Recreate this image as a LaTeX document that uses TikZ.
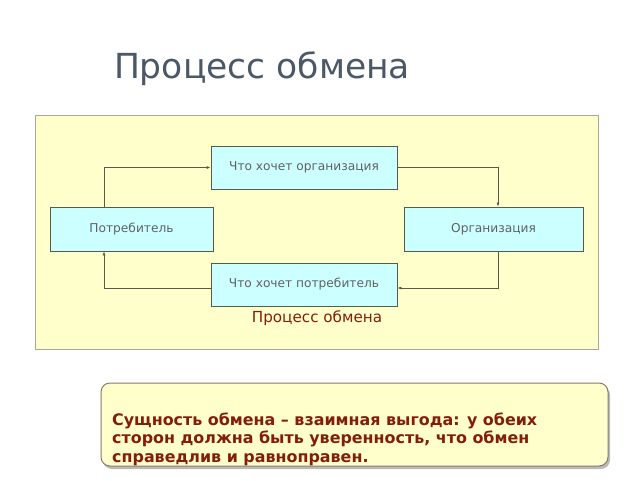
\documentclass[tikz,border=0pt]{standalone}
\usepackage{fontspec}
\setmainfont{DejaVu Sans}
\usetikzlibrary{arrows.meta,shadows}
\definecolor{panelfill}{HTML}{FFFFCC}
\definecolor{panelline}{HTML}{A8A89A}
\definecolor{boxfill}{HTML}{CCFFFF}
\definecolor{boxline}{HTML}{5A5A4A}
\definecolor{titlecol}{HTML}{4A5868}
\definecolor{redtext}{HTML}{841E0C}
\definecolor{notefill}{HTML}{FFFFCC}
\definecolor{noteline}{HTML}{8A7A6A}
\tikzset{
  flowbox/.style={draw=boxline, line width=0.8pt, fill=boxfill, inner sep=0pt, font=\fontsize{12.2}{14}\selectfont, text=black!62},
  flowline/.style={draw=boxline, line width=0.7pt, -{Latex[length=4pt,width=3pt]}},
}
\begin{document}
\begin{tikzpicture}[x=1pt,y=-1pt]
\useasboundingbox (0,0) rectangle (640,480);
\fill[white] (0,0) rectangle (640,480);
\node[text=titlecol, font=\fontsize{34.5}{40}\selectfont, anchor=base] (title) at (262,78) {Процесс обмена};
\node[draw=panelline, line width=1pt, fill=panelfill, minimum width=563pt, minimum height=234pt, inner sep=0pt] (panel) at (316.5,232) {};
\node[flowbox, minimum width=186pt, minimum height=43pt] (wo) at (304,167.5) {Что хочет организация};
\node[flowbox, minimum width=163pt, minimum height=44pt] (cons) at (131.5,229) {Потребитель};
\node[flowbox, minimum width=179pt, minimum height=44pt] (org) at (493.5,229) {Организация};
\node[flowbox, minimum width=186pt, minimum height=43pt] (wc) at (304,284.5) {Что хочет потребитель};
\node[text=redtext, font=\fontsize{15.2}{17}\selectfont, anchor=base] (lbl) at (317,322) {Процесс обмена};
\coordinate (c1) at (104,167.5);
\coordinate (c2) at (498,167.5);
\coordinate (c3) at (498,288);
\coordinate (c4) at (104,288);
\draw[flowline] (cons.north -| c1) -- (c1) -- (wo.west);
\draw[flowline] (wo.east) -- (c2) -- (org.north -| c2);
\draw[flowline] (org.south -| c3) -- (c3) -- (wc.east |- c3);
\draw[flowline] (wc.west |- c4) -- (c4) -- (cons.south -| c4);
\node[draw=noteline, line width=1pt, fill=notefill, rounded corners=9pt, minimum width=507pt, minimum height=83pt, inner sep=0pt,
  drop shadow={shadow xshift=2pt, shadow yshift=-3pt, fill=black!45, opacity=0.6}] (note) at (354.5,424.5) {};
\node[text=redtext, font=\bfseries\fontsize{15.9}{18.3}\selectfont, align=left, anchor=north west, inner sep=0pt] (notetext) at (112,412.7)
  {Сущность обмена – взаимная выгода: у обеих\\сторон должна быть уверенность, что обмен\\справедлив и равноправен.};
\end{tikzpicture}
\end{document}
